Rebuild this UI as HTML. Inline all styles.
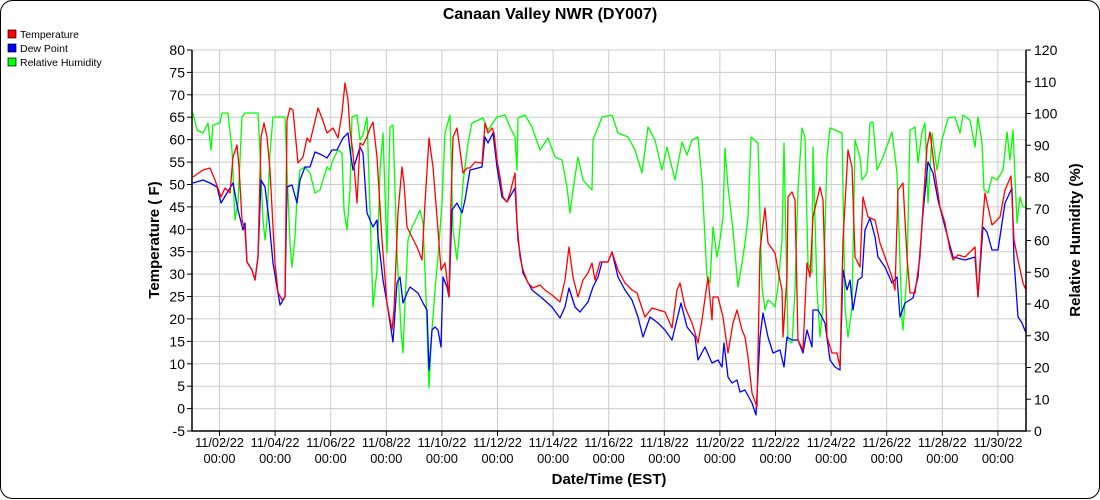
<!DOCTYPE html>
<html><head><meta charset="utf-8"><style>
html,body{margin:0;padding:0;background:#fff;}
svg{display:block;font-family:"Liberation Sans",Arial,sans-serif;}
</style></head><body>
<svg width="1100" height="500" viewBox="0 0 1100 500">
<rect x="0.5" y="0.5" width="1099" height="498" rx="12" fill="#fff" stroke="#000" stroke-width="1"/>
<text x="550" y="19" text-anchor="middle" font-size="16" font-weight="bold">Canaan Valley NWR (DY007)</text>
<rect x="8" y="30" width="8" height="8" fill="#f00" stroke="#000" stroke-width="0.7"/>
<text x="20" y="38" font-size="10.5">Temperature</text>
<rect x="8" y="44" width="8" height="8" fill="#00f" stroke="#000" stroke-width="0.7"/>
<text x="20" y="52" font-size="10.5">Dew Point</text>
<rect x="8" y="58" width="8" height="8" fill="#0f0" stroke="#000" stroke-width="0.7"/>
<text x="20" y="66" font-size="10.5">Relative Humidity</text>
<g stroke="#ccc" stroke-width="1">
<line x1="192" x2="1026" y1="50" y2="50"/><line x1="192" x2="1026" y1="72.4" y2="72.4"/><line x1="192" x2="1026" y1="94.8" y2="94.8"/><line x1="192" x2="1026" y1="117.2" y2="117.2"/><line x1="192" x2="1026" y1="139.6" y2="139.6"/><line x1="192" x2="1026" y1="162.1" y2="162.1"/><line x1="192" x2="1026" y1="184.5" y2="184.5"/><line x1="192" x2="1026" y1="206.9" y2="206.9"/><line x1="192" x2="1026" y1="229.3" y2="229.3"/><line x1="192" x2="1026" y1="251.7" y2="251.7"/><line x1="192" x2="1026" y1="274.1" y2="274.1"/><line x1="192" x2="1026" y1="296.5" y2="296.5"/><line x1="192" x2="1026" y1="318.9" y2="318.9"/><line x1="192" x2="1026" y1="341.4" y2="341.4"/><line x1="192" x2="1026" y1="363.8" y2="363.8"/><line x1="192" x2="1026" y1="386.2" y2="386.2"/><line x1="192" x2="1026" y1="408.6" y2="408.6"/>
<line y1="50" y2="431" x1="219.5" x2="219.5"/><line y1="50" y2="431" x1="275.1" x2="275.1"/><line y1="50" y2="431" x1="330.7" x2="330.7"/><line y1="50" y2="431" x1="386.3" x2="386.3"/><line y1="50" y2="431" x1="441.9" x2="441.9"/><line y1="50" y2="431" x1="497.5" x2="497.5"/><line y1="50" y2="431" x1="553.1" x2="553.1"/><line y1="50" y2="431" x1="608.7" x2="608.7"/><line y1="50" y2="431" x1="664.3" x2="664.3"/><line y1="50" y2="431" x1="719.9" x2="719.9"/><line y1="50" y2="431" x1="775.5" x2="775.5"/><line y1="50" y2="431" x1="831.1" x2="831.1"/><line y1="50" y2="431" x1="886.7" x2="886.7"/><line y1="50" y2="431" x1="942.3" x2="942.3"/><line y1="50" y2="431" x1="997.9" x2="997.9"/>
</g>
<g fill="none" stroke-width="1.3" stroke-linejoin="round">
<polyline stroke="#0f0" points="193,113 197,130 203,133 208,123 211,150 213,125 220,123 222,113 228,113 232,150 235,220 238,203 242,117 245,113 258,113 260,153 263,220 265,240 267,220 270,153 273,117 285,117 287,170 290,243 292,267 295,237 297,197 300,170 305,167 310,173 315,193 320,190 323,180 327,167 330,170 333,160 338,150 342,153 344,210 347,230 350,190 352,117 357,115 360,140 363,135 367,117 370,210 373,307 377,270 380,170 383,133 387,253 390,127 393,125 397,253 401,330 403,353 405,303 408,240 412,227 417,217 420,210 423,223 426,297 429,388 432,330 435,290 438,257 442,203 445,133 450,115 453,230 457,260 460,227 463,183 468,143 472,123 483,118 488,130 497,117 505,115 510,127 515,137 517,170 518,118 525,115 532,127 540,150 548,138 555,157 562,160 567,187 570,213 573,190 578,157 583,180 592,190 593,140 597,130 602,117 612,115 618,133 628,137 635,150 642,173 648,127 655,140 662,170 667,147 675,180 682,142 687,155 692,140 698,137 702,180 707,277 710,283 713,227 717,257 720,240 723,217 725,148 728,187 733,230 738,287 742,263 745,243 748,217 751,137 758,143 762,287 765,310 768,300 772,303 775,307 778,287 782,240 784,143 788,340 792,343 795,290 798,190 802,128 805,137 808,263 812,273 813,147 817,290 820,337 823,307 827,157 830,128 842,133 845,307 848,337 852,307 855,140 860,157 862,180 867,173 870,123 873,122 877,170 883,157 892,132 897,173 902,320 903,330 907,273 910,130 915,127 918,163 922,132 925,123 928,203 932,133 937,170 942,140 948,118 955,117 960,133 963,115 970,120 975,147 978,117 982,143 984,190 988,193 992,177 997,180 1003,170 1007,132 1010,160 1013,130 1017,223 1020,197 1023,207 1026,207"/>
<polyline stroke="#00f" points="193,183 203,180 210,183 217,187 221,203 227,193 233,183 238,210 243,230 245,223 247,262 252,270 255,280 258,257 261,180 265,187 269,220 273,263 278,293 280,305 285,297 287,187 292,185 297,203 300,180 305,167 310,167 315,152 322,155 327,158 332,150 337,150 343,138 348,133 350,150 353,170 360,147 363,153 367,213 370,220 373,227 377,220 378,237 383,280 387,303 393,342 397,283 400,277 403,303 407,293 410,287 418,293 423,303 427,310 429,370 432,330 435,327 438,330 441,347 443,277 447,287 449,297 452,210 457,203 462,213 465,200 470,170 482,167 485,137 488,143 493,133 497,167 502,197 507,202 515,188 518,240 523,273 532,290 542,298 552,307 560,318 565,307 569,288 575,307 580,312 588,302 593,287 598,277 602,262 608,262 612,252 618,277 625,290 632,300 638,317 643,337 650,317 658,323 665,330 672,340 681,303 687,327 695,337 698,360 705,347 712,363 718,360 722,367 724,343 728,377 732,383 737,380 740,392 745,390 752,403 756,415 760,337 763,313 768,337 773,353 780,350 784,367 787,337 792,340 798,340 803,353 807,330 812,347 813,310 818,310 825,323 830,360 835,367 840,370 843,270 847,290 850,280 853,310 858,280 862,277 865,230 870,218 875,237 878,257 885,267 892,283 897,277 900,317 905,303 913,298 918,277 923,213 928,162 933,173 938,200 945,227 953,257 965,260 975,257 978,297 983,227 987,232 992,250 998,250 1005,203 1012,188 1014,260 1018,317 1022,323 1026,333"/>
<polyline stroke="#f00" points="193,177 203,170 210,168 215,180 221,197 225,188 230,193 233,157 237,145 239,167 242,220 245,230 247,262 252,270 255,280 258,257 261,137 264,123 267,137 270,170 273,227 275,263 278,292 282,300 285,297 287,120 290,108 293,110 298,163 303,157 307,138 310,142 316,117 318,108 322,118 327,133 333,128 338,138 342,113 345,83 348,100 350,130 353,153 357,203 360,143 363,145 367,137 370,128 373,122 377,157 382,240 387,303 392,330 394,310 398,213 402,167 404,183 407,227 412,237 417,247 422,260 425,203 429,138 433,167 437,217 441,270 445,263 449,297 451,203 453,137 457,128 460,150 463,173 467,168 470,168 475,162 482,163 485,123 488,133 492,128 494,133 497,160 500,177 503,197 507,202 510,193 515,173 517,223 520,257 523,270 528,283 533,288 540,285 545,290 552,295 560,302 565,280 569,247 573,277 578,297 583,280 588,273 592,263 595,280 600,262 608,262 612,252 618,270 625,283 632,290 637,293 645,317 652,308 665,312 672,328 677,290 680,283 685,307 692,323 698,343 702,320 708,277 712,320 713,297 718,297 723,317 728,353 733,323 737,310 742,330 745,337 748,357 752,393 757,407 760,250 765,208 768,243 775,253 778,270 782,290 783,337 787,277 788,197 792,192 795,200 798,340 803,350 807,263 810,277 813,217 820,187 823,200 827,337 832,353 837,353 840,367 843,240 848,150 852,167 855,257 860,267 863,197 868,217 875,220 880,243 885,257 892,277 895,290 898,190 903,183 907,257 910,293 915,293 920,257 923,207 927,147 930,132 935,173 940,207 945,223 950,250 953,260 958,255 965,257 975,247 978,297 982,230 985,193 992,225 1000,217 1005,190 1011,176 1014,240 1018,260 1023,283 1026,290"/>
</g>
<g stroke="#000" stroke-width="1.5" fill="none">
<polyline points="192,50 192,431 1026,431 1026,50"/>
</g>
<g stroke="#000" stroke-width="1">
<line x1="187" x2="192" y1="50" y2="50"/><line x1="187" x2="192" y1="72.4" y2="72.4"/><line x1="187" x2="192" y1="94.8" y2="94.8"/><line x1="187" x2="192" y1="117.2" y2="117.2"/><line x1="187" x2="192" y1="139.6" y2="139.6"/><line x1="187" x2="192" y1="162.1" y2="162.1"/><line x1="187" x2="192" y1="184.5" y2="184.5"/><line x1="187" x2="192" y1="206.9" y2="206.9"/><line x1="187" x2="192" y1="229.3" y2="229.3"/><line x1="187" x2="192" y1="251.7" y2="251.7"/><line x1="187" x2="192" y1="274.1" y2="274.1"/><line x1="187" x2="192" y1="296.5" y2="296.5"/><line x1="187" x2="192" y1="318.9" y2="318.9"/><line x1="187" x2="192" y1="341.4" y2="341.4"/><line x1="187" x2="192" y1="363.8" y2="363.8"/><line x1="187" x2="192" y1="386.2" y2="386.2"/><line x1="187" x2="192" y1="408.6" y2="408.6"/><line x1="187" x2="192" y1="431" y2="431"/>
<line x1="1026" x2="1031" y1="50" y2="50"/><line x1="1026" x2="1031" y1="81.75" y2="81.75"/><line x1="1026" x2="1031" y1="113.5" y2="113.5"/><line x1="1026" x2="1031" y1="145.25" y2="145.25"/><line x1="1026" x2="1031" y1="177" y2="177"/><line x1="1026" x2="1031" y1="208.75" y2="208.75"/><line x1="1026" x2="1031" y1="240.5" y2="240.5"/><line x1="1026" x2="1031" y1="272.25" y2="272.25"/><line x1="1026" x2="1031" y1="304" y2="304"/><line x1="1026" x2="1031" y1="335.75" y2="335.75"/><line x1="1026" x2="1031" y1="367.5" y2="367.5"/><line x1="1026" x2="1031" y1="399.25" y2="399.25"/><line x1="1026" x2="1031" y1="431" y2="431"/>
<line y1="431" y2="436" x1="219.5" x2="219.5"/><line y1="431" y2="436" x1="275.1" x2="275.1"/><line y1="431" y2="436" x1="330.7" x2="330.7"/><line y1="431" y2="436" x1="386.3" x2="386.3"/><line y1="431" y2="436" x1="441.9" x2="441.9"/><line y1="431" y2="436" x1="497.5" x2="497.5"/><line y1="431" y2="436" x1="553.1" x2="553.1"/><line y1="431" y2="436" x1="608.7" x2="608.7"/><line y1="431" y2="436" x1="664.3" x2="664.3"/><line y1="431" y2="436" x1="719.9" x2="719.9"/><line y1="431" y2="436" x1="775.5" x2="775.5"/><line y1="431" y2="436" x1="831.1" x2="831.1"/><line y1="431" y2="436" x1="886.7" x2="886.7"/><line y1="431" y2="436" x1="942.3" x2="942.3"/><line y1="431" y2="436" x1="997.9" x2="997.9"/>
</g>
<g font-size="14" text-anchor="end">
<text x="185" y="55">80</text><text x="185" y="77.4">75</text><text x="185" y="99.8">70</text><text x="185" y="122.2">65</text><text x="185" y="144.6">60</text><text x="185" y="167.1">55</text><text x="185" y="189.5">50</text><text x="185" y="211.9">45</text><text x="185" y="234.3">40</text><text x="185" y="256.7">35</text><text x="185" y="279.1">30</text><text x="185" y="301.5">25</text><text x="185" y="323.9">20</text><text x="185" y="346.4">15</text><text x="185" y="368.8">10</text><text x="185" y="391.2">5</text><text x="185" y="413.6">0</text><text x="185" y="436">-5</text>
</g>
<g font-size="14" text-anchor="start">
<text x="1034" y="55">120</text><text x="1034" y="86.75">110</text><text x="1034" y="118.5">100</text><text x="1034" y="150.25">90</text><text x="1034" y="182">80</text><text x="1034" y="213.75">70</text><text x="1034" y="245.5">60</text><text x="1034" y="277.25">50</text><text x="1034" y="309">40</text><text x="1034" y="340.75">30</text><text x="1034" y="372.5">20</text><text x="1034" y="404.25">10</text><text x="1034" y="436">0</text>
</g>
<g font-size="12.8" text-anchor="middle">
<text x="219.5" y="447">11/02/22</text><text x="219.5" y="463">00:00</text>
<text x="275.1" y="447">11/04/22</text><text x="275.1" y="463">00:00</text>
<text x="330.7" y="447">11/06/22</text><text x="330.7" y="463">00:00</text>
<text x="386.3" y="447">11/08/22</text><text x="386.3" y="463">00:00</text>
<text x="441.9" y="447">11/10/22</text><text x="441.9" y="463">00:00</text>
<text x="497.5" y="447">11/12/22</text><text x="497.5" y="463">00:00</text>
<text x="553.1" y="447">11/14/22</text><text x="553.1" y="463">00:00</text>
<text x="608.7" y="447">11/16/22</text><text x="608.7" y="463">00:00</text>
<text x="664.3" y="447">11/18/22</text><text x="664.3" y="463">00:00</text>
<text x="719.9" y="447">11/20/22</text><text x="719.9" y="463">00:00</text>
<text x="775.5" y="447">11/22/22</text><text x="775.5" y="463">00:00</text>
<text x="831.1" y="447">11/24/22</text><text x="831.1" y="463">00:00</text>
<text x="886.7" y="447">11/26/22</text><text x="886.7" y="463">00:00</text>
<text x="942.3" y="447">11/28/22</text><text x="942.3" y="463">00:00</text>
<text x="997.9" y="447">11/30/22</text><text x="997.9" y="463">00:00</text>
</g>
<text x="609" y="484" text-anchor="middle" font-size="15" font-weight="bold">Date/Time (EST)</text>
<text transform="translate(159,240) rotate(-90)" text-anchor="middle" font-size="15" font-weight="bold">Temperature ( F)</text>
<text transform="translate(1080,240) rotate(-90)" text-anchor="middle" font-size="15" font-weight="bold">Relative Humidity (%)</text>
</svg>
</body></html>
